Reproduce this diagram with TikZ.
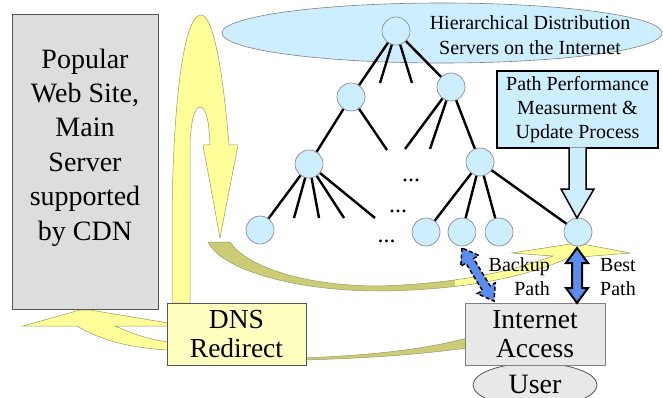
\documentclass[tikz,border=0pt]{standalone}
\usepackage{fontspec}
\setmainfont{Liberation Serif}
\usetikzlibrary{shapes.geometric}
\definecolor{lblue}{HTML}{CCEEFF}
\definecolor{boxgray}{HTML}{DDDDDD}
\definecolor{lgray}{HTML}{E8E8E8}
\definecolor{dnsyel}{HTML}{FFFFC0}
\definecolor{ribyel}{HTML}{FFFF99}
\definecolor{ribolive}{HTML}{CCCC77}
\definecolor{ribline}{HTML}{999966}
\definecolor{pathblue}{HTML}{5B8DEF}
\definecolor{edgegray}{HTML}{808080}
\definecolor{boxline}{HTML}{555555}
\begin{document}
\begin{tikzpicture}[x=1pt,y=-1pt,
  srv/.style={circle, draw=edgegray, line width=0.6pt, fill=lblue, minimum size=28pt, inner sep=0pt},
  tedge/.style={line width=2.4pt, black},
  ribbon/.style={draw=ribline, line width=0.5pt},
  bigtxt/.style={font=\fontsize{28}{34.4}\selectfont, align=center, inner sep=0pt},
  midtxt/.style={font=\fontsize{27.5}{29}\selectfont, align=center, inner sep=0pt},
  smalltxt/.style={font=\fontsize{20}{24}\selectfont, align=center, inner sep=0pt},
  dots/.style={font=\fontsize{24}{24}\selectfont, inner sep=0pt, anchor=base}
]
\useasboundingbox (0,0) rectangle (663,398);
\clip (0,0) rectangle (663,398);

% cloud ellipse
\node[ellipse, draw=edgegray, line width=0.6pt, fill=lblue, minimum width=440pt, minimum height=60pt, inner sep=0pt] (cloud) at (442,33) {};
\node[font=\fontsize{20}{25}\selectfont, align=center, inner sep=0pt] (cloudtxt) at (530,35.6) {Hierarchical Distribution\\Servers on the Internet};

% popular web site box
\node[draw=boxline, line width=0.8pt, fill=boxgray, minimum width=146pt, minimum height=295pt, inner sep=0pt] (pop) at (85,161.5) {};
\node[bigtxt] (poptxt) at (85,147.5) {Popular\\Web Site,\\Main\\Server\\supported\\by CDN};

% yellow U-turn arrow
\filldraw[ribbon, fill=ribyel]
 (172,303) -- (172,230) .. controls (172,120) and (182,15) .. (201,15)
 .. controls (212,15) and (222,60) .. (229,145) -- (238,145) -- (220,238) -- (203,145) -- (210,145)
 .. controls (209,120) and (206,107) .. (200,107)
 .. controls (194,107) and (190,125) .. (190,150) -- (190,303) -- cycle;

% yellow arrow DNS -> popular
\filldraw[ribbon, fill=ribyel]
 (168,323) -- (90,310) -- (80,310) -- (23,326) -- (77,326)
 .. controls (100,340) and (130,348) .. (168,350) -- (168,342)
 .. controls (140,338) and (125,330) .. (115,326) -- (168,326) -- cycle;

% olive/yellow ribbon to best node
\fill[ribolive]
 (208,242) .. controls (220,268) and (290,291) .. (380,291)
 .. controls (470,290) and (530,275) .. (568,258) -- (630,253) -- (577,243) -- (512,253) -- (553,256)
 .. controls (520,268) and (470,283) .. (380,286)
 .. controls (300,286) and (245,265) .. (230,242) -- cycle;
\begin{scope}
\clip (455,200) rectangle (663,300);
\fill[ribyel]
 (208,242) .. controls (220,268) and (290,291) .. (380,291)
 .. controls (470,290) and (530,275) .. (568,258) -- (630,253) -- (577,243) -- (512,253) -- (553,256)
 .. controls (520,268) and (470,283) .. (380,286)
 .. controls (300,286) and (245,265) .. (230,242) -- cycle;
\end{scope}
\draw[ribbon]
 (208,242) .. controls (220,268) and (290,291) .. (380,291)
 .. controls (470,290) and (530,275) .. (568,258) -- (630,253) -- (577,243) -- (512,253) -- (553,256)
 .. controls (520,268) and (470,283) .. (380,286)
 .. controls (300,286) and (245,265) .. (230,242) -- cycle;

% sliver Internet -> DNS
\filldraw[ribbon, fill=ribolive]
 (303,358) .. controls (380,355) and (430,348) .. (467,338) -- (467,348)
 .. controls (430,353) and (380,358) .. (303,360) -- cycle;

% user, internet access, DNS
\node[ellipse, draw=boxline, line width=0.8pt, fill=lgray, minimum width=124pt, minimum height=44pt, inner sep=0pt] (user) at (535,385) {};
\node[font=\fontsize{28}{28}\selectfont, inner sep=0pt, anchor=base] (usertxt) at (535,393) {User};
\node[draw=edgegray, line width=0.8pt, fill=lgray, minimum width=140pt, minimum height=62pt, midtxt] (inet) at (535,334) {Internet\\Access};
\node[draw=boxline, line width=0.8pt, fill=dnsyel, minimum width=139pt, minimum height=62pt, midtxt] (dns) at (236.5,334) {DNS\\Redirect};

% tree nodes
\node[srv] (R) at (396,31) {};
\node[srv] (A) at (351,97) {};
\node[srv] (B) at (451,87) {};
\node[srv] (C) at (309,164) {};
\node[srv] (D) at (480,162) {};
\node[srv] (E) at (260,230) {};
\node[srv] (F) at (426,232) {};
\node[srv] (G) at (462,232) {};
\node[srv] (H) at (499,232) {};
\node[srv] (I) at (578,232) {};

\coordinate (r1) at (380,83);
\coordinate (r2) at (412,83);
\coordinate (a1) at (387,150);
\coordinate (b1) at (405,149);
\coordinate (b2) at (430,149);
\coordinate (c1) at (294,218);
\coordinate (c2) at (319,218);
\coordinate (c3) at (344,218);
\coordinate (c4) at (375,218);

\draw[tedge] (R) -- (A);
\draw[tedge] (R) -- (r1);
\draw[tedge] (R) -- (r2);
\draw[tedge] (R) -- (B);
\draw[tedge] (A) -- (C);
\draw[tedge] (A) -- (a1);
\draw[tedge] (B) -- (b1);
\draw[tedge] (B) -- (b2);
\draw[tedge] (B) -- (D);
\draw[tedge] (C) -- (E);
\draw[tedge] (C) -- (c1);
\draw[tedge] (C) -- (c2);
\draw[tedge] (C) -- (c3);
\draw[tedge] (C) -- (c4);
\draw[tedge] (D) -- (F);
\draw[tedge] (D) -- (G);
\draw[tedge] (D) -- (H);
\draw[tedge] (D) -- (I);

\node[dots] (d1) at (411,182) {...};
\node[dots] (d2) at (398,212) {...};
\node[dots] (d3) at (386.5,242) {...};

% path performance box and arrow
\node[draw=black, line width=1.5pt, fill=lblue, minimum width=161pt, minimum height=77pt, smalltxt] (ppm) at (577.5,109.5) {Path Performance\\Measurment \&\\Update Process};
\draw[line width=1.5pt, fill=lblue, line join=miter]
 (569,147.4) -- (569,189) -- (561,189) -- (577,218) -- (594,189) -- (586,189) -- (586,147.4);

% backup path double arrow
\begin{scope}[shift={(462,248)}, rotate=-58.9]
\filldraw[fill=pathblue, draw=black, line width=1.5pt, dash pattern=on 4pt off 2.5pt]
 (0,0) -- (15,10.5) -- (15,4.5) -- (47,4.5) -- (47,10.5) -- (62,0) -- (47,-10.5) -- (47,-4.5) -- (15,-4.5) -- (15,-10.5) -- cycle;
\end{scope}

% best path double arrow
\filldraw[fill=pathblue, draw=black, line width=2pt, line join=miter]
 (577,248) -- (588,263) -- (582,263) -- (582,288) -- (588,288) -- (577,303) -- (566,288) -- (572,288) -- (572,263) -- (566,263) -- cycle;

% labels
\node[smalltxt, anchor=base east] (bk1) at (550,271) {Backup};
\node[smalltxt, anchor=base east] (bk2) at (550,295) {Path};
\node[smalltxt, anchor=base west] (bs1) at (600,271) {Best};
\node[smalltxt, anchor=base west] (bs2) at (600,295) {Path};
\end{tikzpicture}
\end{document}
